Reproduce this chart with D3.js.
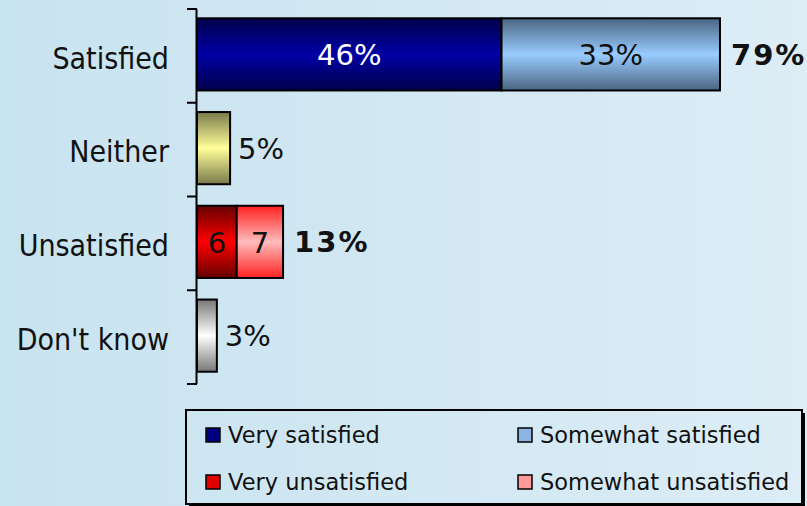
<!DOCTYPE html>
<html>
<head>
<meta charset="utf-8">
<script src="https://cdn.jsdelivr.net/npm/d3@7/dist/d3.min.js"></script>
<style>
html,body{margin:0;padding:0;background:#cce5f1;}
svg{display:block;}
</style>
</head>
<body>
<svg id="chart" width="807" height="506"></svg>
<script>
// ---- data ----
const categories = ["Satisfied", "Neither", "Unsatisfied", "Don't know"];
const seriesNames = ["Very satisfied", "Somewhat satisfied", "Neither", "Very unsatisfied", "Somewhat unsatisfied", "Don't know"];
const verySatisfied      = [46, 0, 0, 0];
const somewhatSatisfied  = [33, 0, 0, 0];
const neitherValues      = [0, 5, 0, 0];
const veryUnsatisfied    = [0, 0, 6, 0];
const somewhatUnsatisfied= [0, 0, 7, 0];
const dontKnowValues     = [0, 0, 0, 3];
const segmentLabels = {
  "Very satisfied": ["46%", "", "", ""],
  "Somewhat satisfied": ["33%", "", "", ""],
  "Very unsatisfied": ["", "", "6", ""],
  "Somewhat unsatisfied": ["", "", "7", ""]
};
const outsideLabels = ["", "5%", "", "3%"];
const totalLabels = ["79%", "", "13%", ""];
const legendItems = ["Very satisfied", "Somewhat satisfied", "Very unsatisfied", "Somewhat unsatisfied"];

// ---- styles ----
const gradStops = {
  "Very satisfied":       ["#00004a", "#0000a6"],
  "Somewhat satisfied":   ["#4a6482", "#99ccff"],
  "Neither":              ["#7a7a4c", "#ffff99"],
  "Very unsatisfied":     ["#660000", "#ff0000"],
  "Somewhat unsatisfied": ["#ff2020", "#ffbcbc"],
  "Don't know":           ["#777777", "#ffffff"]
};
const swatchColors = {
  "Very satisfied": "#000080",
  "Somewhat satisfied": "#8cb4e0",
  "Very unsatisfied": "#e00000",
  "Somewhat unsatisfied": "#ff9a9a"
};
const insideTextColor = {
  "Very satisfied": "#ffffff",
  "Somewhat satisfied": "#111111",
  "Very unsatisfied": "#111111",
  "Somewhat unsatisfied": "#111111"
};

const W = 807, H = 506;
const svg = d3.select("#chart");
const defs = svg.append("defs");

// background gradient
const bg = defs.append("linearGradient").attr("id", "bg").attr("x1", 0).attr("x2", 1).attr("y1", 0).attr("y2", 0);
bg.append("stop").attr("offset", 0).attr("stop-color", "#c8e3f0");
bg.append("stop").attr("offset", 1).attr("stop-color", "#dcedf6");
svg.append("rect").attr("width", W).attr("height", H).attr("fill", "url(#bg)");

// bar gradients
seriesNames.forEach((s, i) => {
  const g = defs.append("linearGradient").attr("id", "g" + i).attr("x1", 0).attr("x2", 0).attr("y1", 0).attr("y2", 1);
  g.append("stop").attr("offset", 0).attr("stop-color", gradStops[s][0]);
  g.append("stop").attr("offset", 0.5).attr("stop-color", gradStops[s][1]);
  g.append("stop").attr("offset", 1).attr("stop-color", gradStops[s][0]);
});

// scales
const x = d3.scaleLinear().domain([0, 100]).range([197, 859]);
const y = d3.scaleBand().domain(categories).range([9, 384]).paddingInner(0.23).paddingOuter(0.115);

// stacking
const table = categories.map((c, i) => ({
  cat: c,
  "Very satisfied": verySatisfied[i],
  "Somewhat satisfied": somewhatSatisfied[i],
  "Neither": neitherValues[i],
  "Very unsatisfied": veryUnsatisfied[i],
  "Somewhat unsatisfied": somewhatUnsatisfied[i],
  "Don't know": dontKnowValues[i]
}));
const stacked = d3.stack().keys(seriesNames)(table);

const layers = svg.append("g").selectAll("g").data(stacked).join("g")
  .attr("fill", (d, i) => "url(#g" + i + ")");
layers.selectAll("rect").data(d => d.map(v => ({ v, key: d.key })).filter(o => o.v[1] - o.v[0] > 0))
  .join("rect")
  .attr("x", o => x(o.v[0]))
  .attr("width", o => x(o.v[1]) - x(o.v[0]))
  .attr("y", o => y(o.v.data.cat) - 1.5)
  .attr("height", y.bandwidth())
  .attr("stroke", "#000").attr("stroke-width", 2);

// inside labels
const valueFont = "'DejaVu Sans', sans-serif";
stacked.forEach(layer => {
  const labs = segmentLabels[layer.key];
  if (!labs) return;
  layer.forEach((v, i) => {
    if (!labs[i]) return;
    svg.append("text")
      .attr("x", x((v[0] + v[1]) / 2))
      .attr("y", y(categories[i]) - 1.5 + y.bandwidth() / 2)
      .attr("dy", "0.37em")
      .attr("text-anchor", "middle")
      .attr("font-family", valueFont).attr("font-size", 29)
      .attr("fill", insideTextColor[layer.key])
      .text(labs[i]);
  });
});

// outside labels and totals
const totals = table.map(r => d3.sum(seriesNames, k => r[k]));
categories.forEach((c, i) => {
  if (outsideLabels[i]) {
    svg.append("text")
      .attr("x", x(totals[i]) + 8)
      .attr("y", y(c) - 1.5 + y.bandwidth() / 2)
      .attr("dy", "0.37em")
      .attr("font-family", valueFont).attr("font-size", 29)
      .attr("fill", "#111")
      .text(outsideLabels[i]);
  }
  if (totalLabels[i]) {
    svg.append("text")
      .attr("x", x(totals[i]) + 11)
      .attr("y", y(c) - 1.5 + y.bandwidth() / 2)
      .attr("dy", "0.36em")
      .attr("font-family", valueFont).attr("font-size", 29).attr("font-weight", "bold")
      .attr("letter-spacing", 2)
      .attr("fill", "#111")
      .text(totalLabels[i]);
  }
});

// axis
const axisG = svg.append("g");
const bounds = categories.map(c => y(c) - y.step() * y.paddingInner() / 2).concat([y.range()[1]]);
axisG.append("line").attr("x1", 196.5).attr("x2", 196.5).attr("y1", y.range()[0]).attr("y2", y.range()[1])
  .attr("stroke", "#000").attr("stroke-width", 2);
axisG.selectAll(".tk").data(bounds).join("line").attr("class", "tk")
  .attr("x1", 187).attr("x2", 197).attr("y1", d => d).attr("y2", d => d)
  .attr("stroke", "#000").attr("stroke-width", 2);
axisG.selectAll(".lab").data(categories).join("text").attr("class", "lab")
  .attr("x", 169).attr("y", d => y(d) + y.bandwidth() / 2 + 2)
  .attr("dy", "0.36em").attr("text-anchor", "end")
  .attr("font-family", "'DejaVu Sans Condensed', 'DejaVu Sans', sans-serif")
  .attr("font-stretch", "condensed")
  .attr("font-size", 30).attr("fill", "#111")
  .text(d => d);

// legend
const lg = svg.append("g");
const lx = 186, ly = 410, lw = 616, lh = 94;
lg.append("path")
  .attr("d", `M${lx + lw + 2},${ly + 3} V${ly + lh + 2} H${lx + 3}`)
  .attr("fill", "none").attr("stroke", "#000").attr("stroke-width", 2);
lg.append("rect").attr("x", lx).attr("y", ly).attr("width", lw).attr("height", lh)
  .attr("fill", "none").attr("stroke", "#000").attr("stroke-width", 2);
const colX = [206, 518];
const rowY = [435, 482];
legendItems.forEach((name, i) => {
  const cx = colX[i % 2], cy = rowY[Math.floor(i / 2)];
  lg.append("rect").attr("x", cx).attr("y", cy - 7).attr("width", 14).attr("height", 14)
    .attr("fill", swatchColors[name]).attr("stroke", "#000").attr("stroke-width", 1.5);
  lg.append("text").attr("x", cx + 22).attr("y", cy).attr("dy", "0.36em")
    .attr("font-family", "'DejaVu Sans', sans-serif").attr("font-size", 22.5).attr("fill", "#111")
    .text(name);
});
</script>
</body>
</html>
